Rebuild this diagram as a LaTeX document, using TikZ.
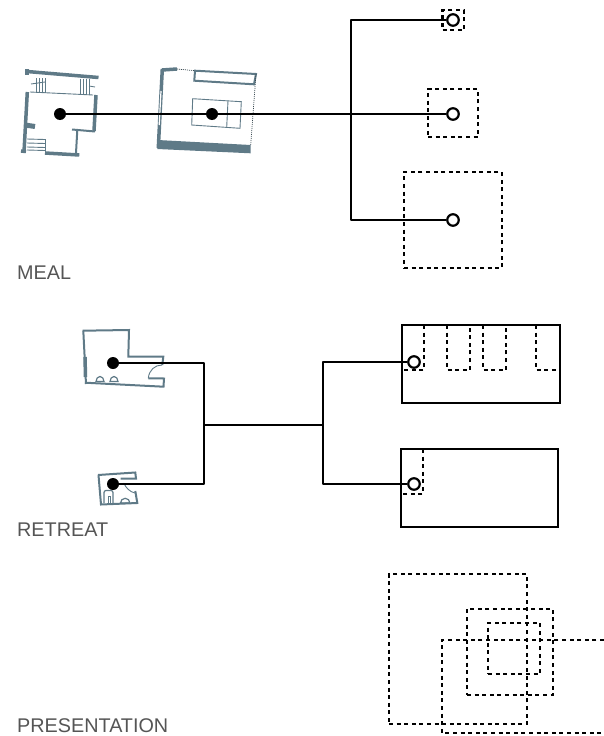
\documentclass[tikz,border=0pt]{standalone}
\usepackage{fontspec}
\setmainfont{Liberation Sans}
\usetikzlibrary{calc}
\definecolor{planBlue}{HTML}{5F7A87}
\definecolor{lblGray}{HTML}{555555}
\tikzset{
    % Connectors
    flow/.style={line width=2pt, black, line join=round},
    dot/.style={circle, fill=black, inner sep=0pt, minimum size=12pt},
    ring/.style={circle, draw=black, line width=2.2pt, fill=white, inner sep=0pt, minimum size=11.5pt},
    % Zones
    zone/.style={rectangle, draw=black, line width=2.3pt, dash pattern=on 4pt off 3.6pt, inner sep=0pt},
    zoneLine/.style={draw=black, line width=2.3pt, dash pattern=on 4pt off 3.6pt},
    room/.style={rectangle, draw=black, line width=2.3pt, inner sep=0pt},
    % Plans
    wallA/.style={draw=planBlue, line width=3.5pt},
    wallB/.style={draw=planBlue, line width=2pt},
    wallC/.style={draw=planBlue, line width=0.9pt},
    wallDot/.style={draw=planBlue!60!black, line width=0.7pt, dash pattern=on 1pt off 1pt},
    % Labels
    lbl/.style={anchor=west, inner sep=0pt, font=\fontsize{19.8}{22}\selectfont, text=lblGray}
}
\begin{document}
\begin{tikzpicture}[x=1pt, y=-1pt]
\useasboundingbox (0,0) rectangle (604,736);

% first plan
\draw[wallA] (27,71.5) -- (98.5,77.5);
\draw[wallA] (27,69) -- (27,75);
\draw[wallA] (27.3,92) -- (24,152);
\draw[wallA] (96,95) -- (94,131);
\draw[wallB] (72,129.5) -- (95,131.5);
\draw[wallB] (77.3,130) -- (76,153);
\draw[wallA] (45,153) -- (79.3,155);
\draw[draw=planBlue, line width=5pt] (25,125) -- (35,126.5);
\draw[wallA] (21,151) -- (26,151.5);
\draw[wallC] (30,92) -- (93,95);
\foreach \x in {36,39,42,45} \draw[wallC] (\x,78) -- (\x,92.5);
\foreach \x in {80,83,86,89} \draw[wallC] (\x,78.5) -- (\x,94.5);
\draw[wallC] (31,84) -- (45,82);
\draw[wallC] (89,86) -- (95,87);
\foreach \y in {139,143,147,150} \draw[wallC] (27,\y) -- (45,\y+0.5);
\draw[wallC] (45,139) -- (45,153);

% second plan
\draw[wallA] (162.3,69) -- (158.3,148);
\draw[wallA] (162,70) -- (177,69);
\draw[white, line width=1.2pt] (161,91) -- (159.2,125);
\draw[wallDot] (177,69) -- (195,70.7);
\draw[wallB, fill=white] (195,70.7) -- (256,74) -- (254,84.3) -- (194.3,80.7) -- cycle;
\draw[wallDot] (256,74) -- (250.7,145);
\fill[planBlue] (157.7,140) -- (250.7,145) -- (250.7,153.3) -- (157.3,149) -- cycle;
\draw[wallC] (192.7,98.7) -- (241.3,101.7) -- (240,128.3) -- (191.7,125) -- cycle;
\draw[wallC] (228,100.7) -- (226.7,127.3);

% third plan
\draw[wallB] (82.7,330.7) -- (129,330) -- (128.3,356.7) -- (163.3,356.7) -- (162.3,365);
\draw[wallB] (83.3,330.7) -- (86,384);
\draw[wallA] (85,357) -- (85.5,377);
\draw[wallB] (85,382.7) -- (163.5,386.7) -- (164,378.5) -- (148.3,378.3);
\draw[wallC] (148.3,378.3) .. controls (149,370) and (155,365) .. (162,365);
\foreach \x in {100,114} \draw[wallB, line width=1.2pt] (\x-4,381.5) arc (180:360:4 and 5) -- cycle;

% fourth plan
\draw[wallB] (98,475) -- (135.3,472.5) -- (136,478.5) -- (120.5,478.5);
\draw[wallB] (98.5,475) -- (101,504.5) -- (137.3,503) -- (135.3,491);
\draw[wallC] (123.7,483) .. controls (126,488) and (130,492) .. (135,493);
\draw[wallB, line width=1.2pt, rounded corners=2pt] (104,503) -- (104,490.5) -- (113,490.5) -- (113,503);
\draw[wallB, line width=1.2pt] (120.5,503) arc (180:360:4.7) -- cycle;
\draw[wallC] (108,503) -- (108,496) -- (110,496) -- (110,503);

% meal zones
\node[zone, minimum width=21.5pt, minimum height=20pt] (zoneSmall) at (453.3,20) {};
\node[zone, minimum width=50pt, minimum height=48pt] (zoneMid) at (453,113) {};
\node[zone, minimum width=98pt, minimum height=96pt] (zoneBig) at (453,220) {};

% retreat rooms
\node[room, minimum width=158pt, minimum height=78pt] (roomTop) at (481,364) {};
\node[room, minimum width=157.5pt, minimum height=78pt] (roomBot) at (479.5,488) {};
\draw[zoneLine] (424,325) -- (424,370) -- (402,370);
\foreach \xa/\xb in {447/470,483/506} {
    \draw[zoneLine] (\xa,325) -- (\xa,370) -- (\xb,370) -- (\xb,325);
}
\draw[zoneLine] (536,325) -- (536,370) -- (560,370);
\draw[zoneLine] (423,449) -- (423,494) -- (401,494);

% presentation zones
\node[zone, minimum width=138pt, minimum height=150pt] (zoneA) at (458,649) {};
\node[zone, minimum width=86pt, minimum height=86pt] (zoneB) at (510,652) {};
\node[zone, minimum width=52pt, minimum height=51pt] (zoneC) at (514,648.5) {};
\draw[zoneLine] (604,640) -- (442,640) -- (442,733) -- (604,733);

% meal links
\node[dot] (mealA) at (60,114) {};
\node[dot] (mealB) at (212,114) {};
\node[ring] (ringTop) at (453,20) {};
\node[ring] (ringMid) at (453,114) {};
\node[ring] (ringBot) at (453,220) {};
\coordinate (spineTop) at (351,20);
\coordinate (spineBot) at (351,220);
\draw[flow] (mealA) -- (ringMid);
\draw[flow] (ringTop) -- (spineTop) -- (spineBot) -- (ringBot);

% retreat links
\node[dot] (retA) at (113,363) {};
\node[dot] (retB) at (113,484) {};
\node[ring] (ringA) at (414,362) {};
\node[ring] (ringB) at (414,484) {};
\coordinate (busA) at (204,425);
\coordinate (busB) at (323,425);
\draw[flow] (retA) -- (204,363) -- (204,484) -- (retB);
\draw[flow] (busA) -- (busB);
\draw[flow] (ringA) -- (323,362) -- (323,484) -- (ringB);

\node[lbl] (meal) at (17,272.5) {MEAL};
\node[lbl] (retreat) at (17,529.5) {RETREAT};
\node[lbl] (presentation) at (17,725.5) {PRESENTATION};

\end{tikzpicture}
\end{document}
